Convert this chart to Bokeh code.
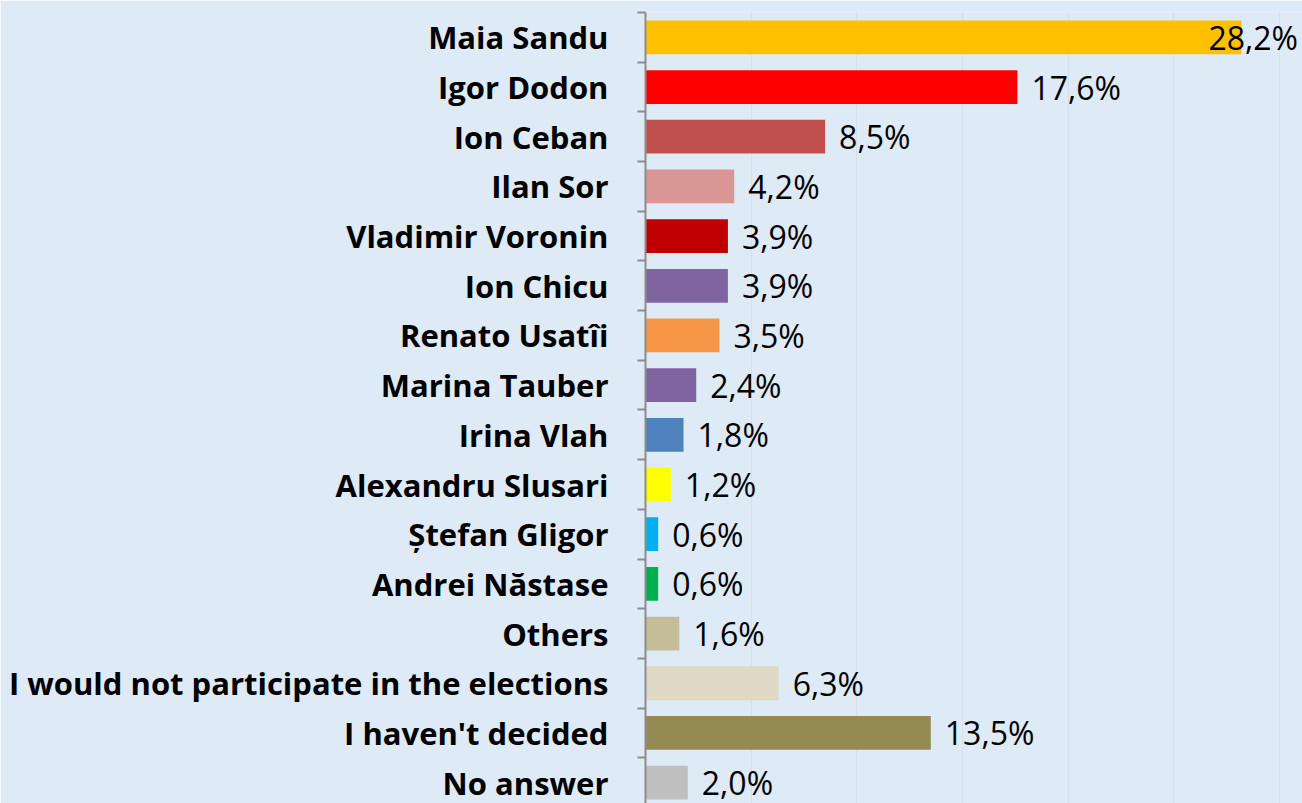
from bokeh.plotting import figure
from bokeh.models import ColumnDataSource, Range1d, FixedTicker
from bokeh.core.properties import value
from bokeh.embed import file_html
from bokeh.resources import INLINE

categories = ["Maia Sandu", "Igor Dodon", "Ion Ceban", "Ilan Sor", "Vladimir Voronin",
              "Ion Chicu", "Renato Usatîi", "Marina Tauber", "Irina Vlah",
              "Alexandru Slusari", "Ștefan Gligor", "Andrei Năstase", "Others",
              "I would not participate in the elections", "I haven't decided", "No answer"]
percent = [28.2, 17.6, 8.5, 4.2, 3.9, 3.9, 3.5, 2.4, 1.8, 1.2, 0.6, 0.6, 1.6, 6.3, 13.5, 2.0]
colors = ["#FFC000", "#FF0000", "#C0504D", "#DA9694", "#C00000", "#8064A2", "#F79646",
          "#8064A2", "#4F81BD", "#FFFF00", "#00B0F0", "#00B050", "#C4BD97", "#DDD9C4",
          "#948A54", "#BFBFBF"]
grid_ticks = [5, 10, 15, 20, 25, 30]

pos = list(range(len(categories)))
labels = [f"{v:.1f}%".replace(".", ",") for v in percent]
offsets = [14 if v < 27 else -33 for v in percent]

src = ColumnDataSource(dict(pos=pos, v=percent, c=colors, lab=labels, off=offsets))

BG = "#DEEAF6"
p = figure(width=1302, height=803, output_backend="svg", toolbar_location=None,
           x_range=Range1d(0, 31.09), y_range=Range1d(15.42, -0.5),
           background_fill_color=BG, border_fill_color=BG,
           min_border_left=645, min_border_right=0, min_border_top=12, min_border_bottom=0)
p.outline_line_color = None

p.hbar(y="pos", right="v", left=0, height=0.68, fill_color="c", line_color=None, source=src)
p.text(x="v", y="pos", text="lab", x_offset="off", text_baseline="middle", text_align="left",
       text_font=value("Open Sans"), text_font_size="32px", text_color="#000000", source=src)

p.xaxis.visible = False
p.xgrid.ticker = FixedTicker(ticks=grid_ticks)
p.xgrid.grid_line_color = "#D3E0EE"
p.xgrid.grid_line_width = 1
p.ygrid.visible = False

ya = p.yaxis[0]
ya.ticker = FixedTicker(ticks=pos, minor_ticks=[i - 0.5 for i in range(len(categories) + 1)])
ya.major_label_overrides = {i: c for i, c in enumerate(categories)}
ya.major_tick_out = 0
ya.major_tick_in = 0
ya.minor_tick_out = 8
ya.minor_tick_in = 0
ya.minor_tick_line_color = "#8C8C8C"
ya.minor_tick_line_width = 2
ya.axis_line_color = "#8C8C8C"
ya.axis_line_width = 2
ya.major_label_standoff = 29
ya.major_label_text_font = "Open Sans"
ya.major_label_text_font_style = "bold"
ya.major_label_text_font_size = "31px"
ya.major_label_text_color = "#000000"

open("out.html", "w").write(file_html(p, INLINE))
